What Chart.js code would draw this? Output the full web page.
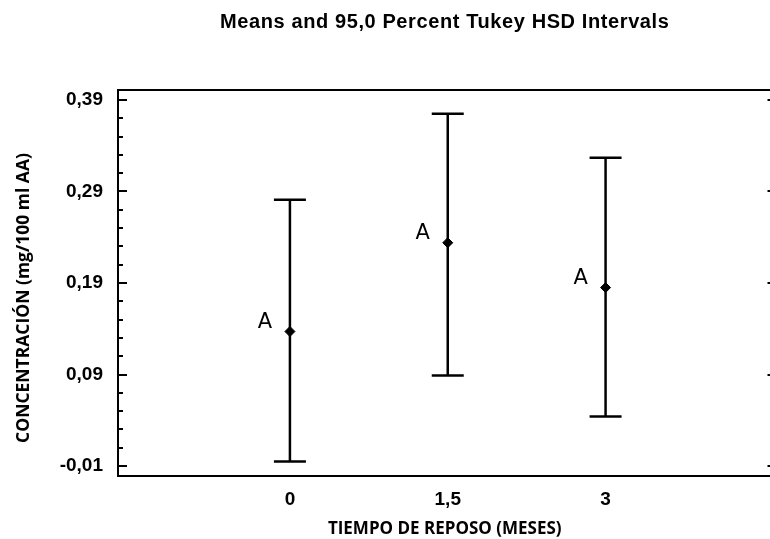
<!DOCTYPE html>
<html>
<head>
<meta charset="utf-8">
<script src="https://cdn.jsdelivr.net/npm/chart.js@4.4.0/dist/chart.umd.min.js"></script>
<style>
  html, body { margin: 0; padding: 0; background: #fff; overflow: hidden; width: 770px; height: 539px; }
  #wrap { width: 790px; height: 539px; }
</style>
</head>
<body>
<div id="wrap"><canvas id="myChart" width="790" height="539"></canvas></div>
<script>
// tiempo de reposo (meses) vs concentracion, Tukey HSD 95%
let meses = [0, 1.5, 3];
let mesLabels = ["0", "1,5", "3"];
let medias = [0.137, 0.234, 0.185];
let limInf = [-0.005, 0.089, 0.044];
let limSup = [0.281, 0.375, 0.327];
let grupos = ["A", "A", "A"];
let yTicks = [-0.01, 0.09, 0.19, 0.29, 0.39];
let yTickLabels = ["-0,01", "0,09", "0,19", "0,29", "0,39"];

let whiskers = [];
let caps = [];
let means = [];
for (let i = 0; i < meses.length; i++) {
  whiskers.push({x: meses[i], y: limInf[i]});
  whiskers.push({x: meses[i], y: limSup[i]});
  whiskers.push({x: meses[i], y: null});
  caps.push({x: meses[i], y: limInf[i]});
  caps.push({x: meses[i], y: limSup[i]});
  means.push({x: meses[i], y: medias[i]});
}

// frame, inner ticks, titles and group letters
let extras = {
  id: 'extras',
  afterDraw(chart) {
    let ctx = chart.ctx;
    let a = chart.chartArea;
    let xs = chart.scales.x;
    let ys = chart.scales.y;
    ctx.save();
    ctx.strokeStyle = '#000';
    ctx.lineWidth = 2;
    ctx.strokeRect(a.left, a.top, a.right - a.left, a.bottom - a.top);

    ctx.beginPath();
    for (let i = 0; i <= 20; i++) {
      let v = yTicks[0] + i * 0.02;
      let py = Math.round(ys.getPixelForValue(v));
      let len = (i % 5 == 0) ? 9 : 5;
      ctx.moveTo(a.left, py);
      ctx.lineTo(a.left + len, py);
      if (i % 5 == 0) {
        ctx.moveTo(a.right, py);
        ctx.lineTo(a.right - 4, py);
      }
    }
    ctx.stroke();

    ctx.fillStyle = '#000';
    ctx.textAlign = 'center';
    ctx.textBaseline = 'middle';
    ctx.font = 'bold 20px "Liberation Sans"';
    ctx.letterSpacing = '0.6px';
    ctx.fillText('Means and 95,0 Percent Tukey HSD Intervals', (a.left + a.right) / 2, 22);
    ctx.letterSpacing = '0px';

    ctx.save();
    ctx.translate(24, 298);
    ctx.rotate(-Math.PI / 2);
    ctx.font = 'bold 17.5px "Open Sans"';
    ctx.fillText('CONCENTRACIÓN (mg/100 ml AA)', 0, 0);
    ctx.restore();

    ctx.font = '21px "DejaVu Sans"';
    for (let i = 0; i < meses.length; i++) {
      ctx.fillText(grupos[i], xs.getPixelForValue(meses[i]) - 25, ys.getPixelForValue(medias[i]) - 9);
    }
    ctx.restore();
  }
};

let ctx = document.getElementById("myChart").getContext('2d');

let tukeyChart = new Chart(ctx, {
  type: 'scatter',
  data: {
    datasets: [{
      type: 'line',
      data: whiskers,
      borderColor: '#000',
      borderWidth: 2.5,
      pointRadius: 0,
      spanGaps: false
    }, {
      type: 'scatter',
      data: caps,
      pointStyle: 'line',
      pointRadius: 16,
      borderWidth: 2.5,
      borderColor: '#000'
    }, {
      type: 'scatter',
      data: means,
      pointStyle: 'rectRot',
      pointRadius: 5,
      backgroundColor: '#000',
      borderColor: '#000',
      borderWidth: 1
    }]
  },
  options: {
    responsive: false,
    maintainAspectRatio: false,
    animation: false,
    layout: { padding: { top: 90, right: 0, left: 0, bottom: 0 } },
    plugins: {
      legend: { display: false },
      tooltip: { enabled: false }
    },
    scales: {
      x: {
        type: 'linear',
        min: -1.634,
        max: 4.577,
        grid: { display: false, drawTicks: false },
        border: { display: false },
        afterBuildTicks: function(scale) {
          scale.ticks = meses.map(v => ({value: v}));
        },
        afterFit: function(scale) { scale.height = 63; },
        ticks: {
          color: '#000',
          padding: 12,
          font: { family: 'Liberation Sans', size: 19, weight: 'bold' },
          callback: function(value, index) { return mesLabels[index]; }
        },
        title: {
          display: true,
          text: 'TIEMPO DE REPOSO (MESES)',
          color: '#000',
          font: { family: 'Open Sans', size: 17, weight: 'bold' },
          padding: { top: 5, bottom: 0 }
        }
      },
      y: {
        min: -0.0209,
        max: 0.4009,
        grid: { display: false, drawTicks: false },
        border: { display: false },
        afterBuildTicks: function(scale) {
          scale.ticks = yTicks.map(v => ({value: v}));
        },
        afterFit: function(scale) { scale.width = 118; },
        ticks: {
          color: '#000',
          padding: 15,
          font: { family: 'Liberation Sans', size: 19, weight: 'bold' },
          callback: function(value, index) { return yTickLabels[index]; }
        }
      }
    }
  },
  plugins: [extras]
});
</script>
</body>
</html>
